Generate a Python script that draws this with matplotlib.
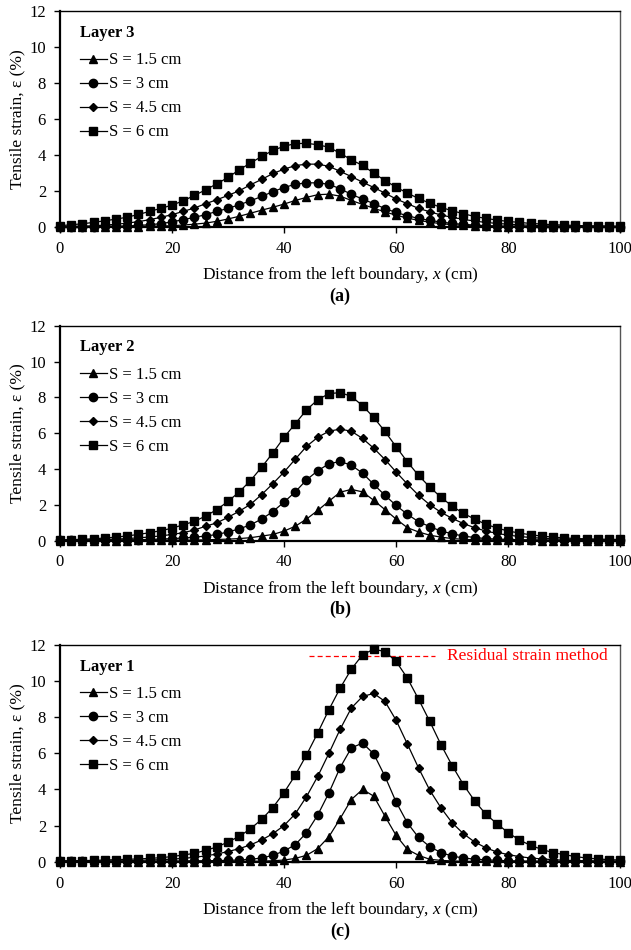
import matplotlib
matplotlib.use("Agg")
import matplotlib.pyplot as plt

plt.rcParams['font.family'] = ['Liberation Serif', 'DejaVu Serif']
plt.rcParams['mathtext.fontset'] = 'custom'
plt.rcParams['mathtext.rm'] = 'Liberation Serif'
plt.rcParams['mathtext.it'] = 'Liberation Serif:italic'

# distance from left boundary (cm), one reading every 2 cm
x_cm = list(range(0, 101, 2))

# Layer 3 (a)
a_s15 = [0.0, 0.0, 0.0, 0.01, 0.01, 0.02, 0.02, 0.03, 0.04, 0.05,
         0.08, 0.11, 0.16, 0.22, 0.32, 0.45, 0.60, 0.77, 0.94, 1.10,
         1.28, 1.48, 1.65, 1.80, 1.83, 1.72, 1.48, 1.26, 1.05, 0.84,
         0.66, 0.50, 0.37, 0.27, 0.19, 0.13, 0.09, 0.06, 0.04, 0.03,
         0.02, 0.02, 0.01, 0.01, 0.01, 0.0, 0.0, 0.0, 0.0, 0.0, 0.0]
a_s3 = [0.01, 0.02, 0.02, 0.03, 0.04, 0.05, 0.06, 0.09, 0.13, 0.19,
        0.29, 0.41, 0.54, 0.69, 0.87, 1.04, 1.24, 1.46, 1.70, 1.97,
        2.20, 2.38, 2.46, 2.46, 2.38, 2.13, 1.82, 1.56, 1.30, 1.03,
        0.81, 0.63, 0.48, 0.37, 0.28, 0.20, 0.15, 0.11, 0.08, 0.06,
        0.05, 0.04, 0.03, 0.03, 0.02, 0.02, 0.02, 0.01, 0.01, 0.01, 0.01]
a_s45 = [0.02, 0.04, 0.05, 0.07, 0.11, 0.15, 0.22, 0.30, 0.41, 0.54,
         0.69, 0.87, 1.06, 1.30, 1.52, 1.76, 2.02, 2.35, 2.65, 2.98,
         3.22, 3.42, 3.50, 3.50, 3.38, 3.10, 2.81, 2.50, 2.20, 1.89,
         1.56, 1.30, 1.04, 0.85, 0.67, 0.54, 0.43, 0.33, 0.26, 0.20,
         0.16, 0.12, 0.10, 0.08, 0.06, 0.05, 0.04, 0.03, 0.03, 0.02, 0.02]
a_s6 = [0.07, 0.13, 0.18, 0.26, 0.35, 0.44, 0.55, 0.70, 0.87, 1.04,
        1.22, 1.46, 1.76, 2.07, 2.41, 2.76, 3.19, 3.56, 3.93, 4.26,
        4.50, 4.64, 4.66, 4.58, 4.44, 4.11, 3.74, 3.43, 3.00, 2.59,
        2.22, 1.89, 1.59, 1.33, 1.09, 0.91, 0.74, 0.59, 0.48, 0.39,
        0.31, 0.26, 0.20, 0.17, 0.13, 0.11, 0.09, 0.07, 0.07, 0.06, 0.05]

# Layer 2 (b)
b_s15 = [0.0, 0.0, 0.0, 0.0, 0.0, 0.0, 0.0, 0.01, 0.01, 0.01,
         0.02, 0.02, 0.03, 0.04, 0.06, 0.08, 0.11, 0.16, 0.25, 0.34,
         0.53, 0.80, 1.20, 1.68, 2.20, 2.70, 2.86, 2.72, 2.25, 1.73,
         1.20, 0.72, 0.48, 0.30, 0.19, 0.11, 0.07, 0.04, 0.03, 0.02,
         0.01, 0.01, 0.01, 0.0, 0.0, 0.0, 0.0, 0.0, 0.0, 0.0, 0.0]
b_s3 = [0.01, 0.01, 0.01, 0.02, 0.02, 0.03, 0.04, 0.05, 0.06, 0.08,
        0.11, 0.14, 0.19, 0.25, 0.34, 0.48, 0.65, 0.88, 1.20, 1.62,
        2.15, 2.72, 3.39, 3.90, 4.29, 4.42, 4.21, 3.77, 3.14, 2.53,
        1.96, 1.47, 1.05, 0.78, 0.53, 0.38, 0.25, 0.17, 0.11, 0.08,
        0.06, 0.05, 0.04, 0.03, 0.03, 0.02, 0.02, 0.02, 0.01, 0.01, 0.01]
b_s45 = [0.02, 0.02, 0.03, 0.04, 0.06, 0.08, 0.11, 0.15, 0.20, 0.26,
         0.34, 0.44, 0.59, 0.80, 0.99, 1.30, 1.64, 2.02, 2.57, 3.18,
         3.83, 4.55, 5.26, 5.77, 6.11, 6.23, 6.11, 5.71, 5.16, 4.53,
         3.83, 3.16, 2.53, 2.00, 1.58, 1.24, 0.95, 0.72, 0.53, 0.40,
         0.30, 0.23, 0.17, 0.13, 0.10, 0.08, 0.06, 0.05, 0.04, 0.03, 0.03]
b_s6 = [0.04, 0.05, 0.07, 0.10, 0.14, 0.19, 0.26, 0.34, 0.44, 0.55,
        0.69, 0.88, 1.07, 1.37, 1.73, 2.19, 2.72, 3.35, 4.10, 4.90,
        5.77, 6.53, 7.30, 7.87, 8.21, 8.27, 8.06, 7.54, 6.88, 6.10,
        5.24, 4.40, 3.64, 2.99, 2.42, 1.92, 1.52, 1.20, 0.91, 0.70,
        0.53, 0.42, 0.32, 0.25, 0.19, 0.15, 0.11, 0.10, 0.08, 0.07, 0.06]

# Layer 1 (c)
c_s15 = [0.0, 0.0, 0.0, 0.0, 0.0, 0.0, 0.0, 0.0, 0.0, 0.0,
         0.0, 0.0, 0.0, 0.0, 0.01, 0.01, 0.01, 0.02, 0.03, 0.05,
         0.09, 0.18, 0.35, 0.72, 1.38, 2.38, 3.44, 4.00, 3.63, 2.52,
         1.45, 0.68, 0.35, 0.13, 0.07, 0.04, 0.02, 0.01, 0.01, 0.0,
         0.0, 0.0, 0.0, 0.0, 0.0, 0.0, 0.0, 0.0, 0.0, 0.0, 0.0]
c_s3 = [0.01, 0.01, 0.01, 0.01, 0.01, 0.01, 0.02, 0.02, 0.02, 0.03,
        0.03, 0.04, 0.05, 0.05, 0.06, 0.07, 0.09, 0.13, 0.20, 0.35,
        0.59, 0.94, 1.60, 2.58, 3.81, 5.21, 6.30, 6.57, 5.97, 4.73,
        3.30, 2.15, 1.34, 0.83, 0.50, 0.31, 0.20, 0.14, 0.10, 0.07,
        0.05, 0.04, 0.03, 0.03, 0.02, 0.02, 0.02, 0.01, 0.01, 0.01, 0.01]
c_s45 = [0.02, 0.02, 0.02, 0.03, 0.03, 0.04, 0.05, 0.07, 0.09, 0.11,
         0.14, 0.18, 0.24, 0.32, 0.42, 0.56, 0.72, 0.93, 1.20, 1.55,
         2.00, 2.65, 3.60, 4.72, 6.00, 7.33, 8.51, 9.15, 9.32, 8.88,
         7.83, 6.52, 5.19, 3.96, 2.98, 2.15, 1.55, 1.09, 0.77, 0.53,
         0.39, 0.28, 0.20, 0.15, 0.11, 0.08, 0.06, 0.05, 0.04, 0.03, 0.03]
c_s6 = [0.05, 0.05, 0.06, 0.07, 0.09, 0.11, 0.13, 0.15, 0.18, 0.22,
        0.28, 0.37, 0.46, 0.63, 0.81, 1.09, 1.40, 1.82, 2.34, 3.00,
        3.83, 4.79, 5.91, 7.13, 8.42, 9.61, 10.66, 11.46, 11.77, 11.64,
        11.09, 10.17, 9.00, 7.77, 6.48, 5.32, 4.27, 3.37, 2.63, 2.10,
        1.60, 1.20, 0.90, 0.68, 0.50, 0.39, 0.28, 0.20, 0.15, 0.11, 0.09]

series_labels = ["S = 1.5 cm", "S = 3 cm", "S = 4.5 cm", "S = 6 cm"]
markers = ['^', 'o', 'D', 's']
msizes = [6.0, 6.0, 4.2, 6.0]

residual_level = 11.4
residual_x = [44.5, 67]

panels = [
    ("Layer 3", "(a)", [a_s15, a_s3, a_s45, a_s6]),
    ("Layer 2", "(b)", [b_s15, b_s3, b_s45, b_s6]),
    ("Layer 1", "(c)", [c_s15, c_s3, c_s45, c_s6]),
]

fig = plt.figure(figsize=(6.31, 9.5), dpi=100)
# axes boxes in figure fraction (left, bottom, width, height)
boxes = [(0.095, 0.761, 0.888, 0.227),
         (0.095, 0.431, 0.888, 0.226),
         (0.095, 0.093, 0.888, 0.228)]

for (layer, tag, ys), box in zip(panels, boxes):
    ax = fig.add_axes(box)
    for y, lab, m, ms in zip(ys, series_labels, markers, msizes):
        ax.plot(x_cm, y, color='black', lw=0.9, marker=m, ms=ms,
                label=lab, clip_on=False, zorder=3)
    ax.set_xlim(0, 100)
    ax.set_ylim(0, 12)
    ax.set_xticks(range(0, 101, 20))
    ax.set_yticks(range(0, 13, 2))
    ax.tick_params(direction='out', length=4, width=1, labelsize=12, pad=6)
    ax.spines['left'].set_linewidth(1.6)
    ax.spines['bottom'].set_linewidth(1.6)
    ax.spines['top'].set_linewidth(1.0)
    ax.spines['right'].set_linewidth(1.0)
    ax.spines['right'].set_color('#555555')
    ax.set_xlabel("Distance from the left boundary, $x$ (cm)", fontsize=12.5, labelpad=6)
    ax.set_ylabel("Tensile strain, ε (%)", fontsize=12.5)
    ax.yaxis.set_label_coords(-0.062, 0.5)
    ax.text(0.5, -0.32, tag, transform=ax.transAxes, ha='center', va='center',
            fontsize=13, fontweight='bold')
    ax.text(0.036, 0.9, layer, transform=ax.transAxes, ha='left', va='center',
            fontsize=12, fontweight='bold')
    ax.legend(loc='upper left', bbox_to_anchor=(0.036, 0.81), frameon=False,
              fontsize=12, handlelength=1.6, handletextpad=0.15,
              labelspacing=0.48, borderpad=0, borderaxespad=0)
    if layer == "Layer 1":
        ax.plot(residual_x, [residual_level, residual_level], color='red',
                ls=(0, (4, 2.5)), lw=0.9, zorder=2)
        ax.text(69, residual_level, "Residual strain method", color='red',
                fontsize=12.5, ha='left', va='center')

fig.savefig("out.png", dpi=100)
